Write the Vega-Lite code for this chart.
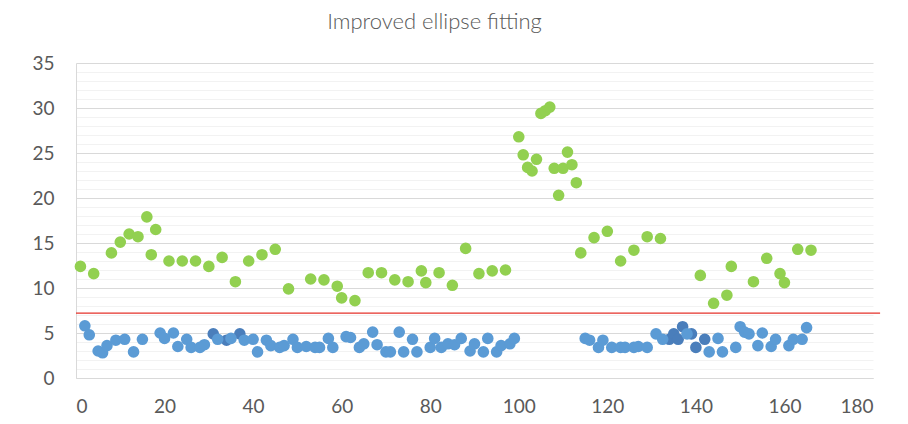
{
  "$schema": "https://vega.github.io/schema/vega-lite/v6.json",
  "width": 797,
  "height": 315,
  "autosize": "none",
  "padding": {"left": 76, "top": 63, "right": 35, "bottom": 46},
  "background": "white",
  "config": {"view": {"stroke": null}, "font": "Lato"},
  "title": {
    "text": "Improved ellipse fitting",
    "font": "Lato",
    "fontSize": 22,
    "fontWeight": 300,
    "color": "#595959",
    "anchor": "middle",
    "dx": -40,
    "baseline": "alphabetic",
    "offset": 3
  },
  "datasets": {
    "pts": [
      {"x": 1, "y": 12.4, "s": "green"}, {"x": 4, "y": 11.6, "s": "green"}, {"x": 8, "y": 13.9, "s": "green"},
      {"x": 10, "y": 15.1, "s": "green"}, {"x": 12, "y": 16.0, "s": "green"}, {"x": 14, "y": 15.7, "s": "green"},
      {"x": 16, "y": 17.9, "s": "green"}, {"x": 17, "y": 13.7, "s": "green"}, {"x": 18, "y": 16.5, "s": "green"},
      {"x": 21, "y": 13.0, "s": "green"}, {"x": 24, "y": 13.0, "s": "green"}, {"x": 27, "y": 13.0, "s": "green"},
      {"x": 30, "y": 12.4, "s": "green"}, {"x": 33, "y": 13.4, "s": "green"}, {"x": 36, "y": 10.7, "s": "green"},
      {"x": 39, "y": 13.0, "s": "green"}, {"x": 42, "y": 13.7, "s": "green"}, {"x": 45, "y": 14.3, "s": "green"},
      {"x": 48, "y": 9.9, "s": "green"}, {"x": 53, "y": 11.0, "s": "green"}, {"x": 56, "y": 10.9, "s": "green"},
      {"x": 59, "y": 10.2, "s": "green"}, {"x": 60, "y": 8.9, "s": "green"}, {"x": 63, "y": 8.6, "s": "green"},
      {"x": 66, "y": 11.7, "s": "green"}, {"x": 69, "y": 11.7, "s": "green"}, {"x": 72, "y": 10.9, "s": "green"},
      {"x": 75, "y": 10.7, "s": "green"}, {"x": 78, "y": 11.9, "s": "green"}, {"x": 79, "y": 10.6, "s": "green"},
      {"x": 82, "y": 11.7, "s": "green"}, {"x": 85, "y": 10.3, "s": "green"}, {"x": 88, "y": 14.4, "s": "green"},
      {"x": 91, "y": 11.6, "s": "green"}, {"x": 94, "y": 11.9, "s": "green"}, {"x": 97, "y": 12.0, "s": "green"},
      {"x": 100, "y": 26.8, "s": "green"}, {"x": 101, "y": 24.8, "s": "green"}, {"x": 102, "y": 23.4, "s": "green"},
      {"x": 103, "y": 23.0, "s": "green"}, {"x": 104, "y": 24.3, "s": "green"}, {"x": 105, "y": 29.4, "s": "green"},
      {"x": 106, "y": 29.7, "s": "green"}, {"x": 107, "y": 30.1, "s": "green"}, {"x": 108, "y": 23.3, "s": "green"},
      {"x": 109, "y": 20.3, "s": "green"}, {"x": 110, "y": 23.3, "s": "green"}, {"x": 111, "y": 25.1, "s": "green"},
      {"x": 112, "y": 23.7, "s": "green"}, {"x": 113, "y": 21.7, "s": "green"}, {"x": 114, "y": 13.9, "s": "green"},
      {"x": 117, "y": 15.6, "s": "green"}, {"x": 120, "y": 16.3, "s": "green"}, {"x": 123, "y": 13.0, "s": "green"},
      {"x": 126, "y": 14.2, "s": "green"}, {"x": 129, "y": 15.7, "s": "green"}, {"x": 132, "y": 15.5, "s": "green"},
      {"x": 141, "y": 11.4, "s": "green"}, {"x": 144, "y": 8.3, "s": "green"}, {"x": 147, "y": 9.2, "s": "green"},
      {"x": 148, "y": 12.4, "s": "green"}, {"x": 153, "y": 10.7, "s": "green"}, {"x": 156, "y": 13.3, "s": "green"},
      {"x": 159, "y": 11.6, "s": "green"}, {"x": 160, "y": 10.6, "s": "green"}, {"x": 163, "y": 14.3, "s": "green"},
      {"x": 166, "y": 14.2, "s": "green"},

      {"x": 2, "y": 5.8, "s": "blue"}, {"x": 3, "y": 4.8, "s": "blue"}, {"x": 5, "y": 3.0, "s": "blue"},
      {"x": 6, "y": 2.8, "s": "blue"}, {"x": 7, "y": 3.6, "s": "blue"}, {"x": 9, "y": 4.2, "s": "blue"},
      {"x": 11, "y": 4.3, "s": "blue"}, {"x": 13, "y": 2.9, "s": "blue"}, {"x": 15, "y": 4.3, "s": "blue"},
      {"x": 19, "y": 5.0, "s": "blue"}, {"x": 20, "y": 4.4, "s": "blue"}, {"x": 22, "y": 5.0, "s": "blue"},
      {"x": 23, "y": 3.5, "s": "blue"}, {"x": 25, "y": 4.3, "s": "blue"}, {"x": 26, "y": 3.4, "s": "blue"},
      {"x": 28, "y": 3.4, "s": "blue"}, {"x": 29, "y": 3.7, "s": "blue"}, {"x": 32, "y": 4.3, "s": "blue"},
      {"x": 35, "y": 4.4, "s": "blue"}, {"x": 38, "y": 4.2, "s": "blue"}, {"x": 40, "y": 4.3, "s": "blue"},
      {"x": 41, "y": 2.9, "s": "blue"}, {"x": 43, "y": 4.2, "s": "blue"}, {"x": 44, "y": 3.6, "s": "blue"},
      {"x": 46, "y": 3.4, "s": "blue"}, {"x": 47, "y": 3.6, "s": "blue"}, {"x": 49, "y": 4.3, "s": "blue"},
      {"x": 50, "y": 3.4, "s": "blue"}, {"x": 52, "y": 3.5, "s": "blue"}, {"x": 54, "y": 3.4, "s": "blue"},
      {"x": 55, "y": 3.4, "s": "blue"}, {"x": 57, "y": 4.4, "s": "blue"}, {"x": 58, "y": 3.4, "s": "blue"},
      {"x": 61, "y": 4.6, "s": "blue"}, {"x": 62, "y": 4.5, "s": "blue"}, {"x": 64, "y": 3.4, "s": "blue"},
      {"x": 65, "y": 3.8, "s": "blue"}, {"x": 67, "y": 5.1, "s": "blue"}, {"x": 68, "y": 3.7, "s": "blue"},
      {"x": 70, "y": 2.9, "s": "blue"}, {"x": 71, "y": 2.9, "s": "blue"}, {"x": 73, "y": 5.1, "s": "blue"},
      {"x": 74, "y": 2.9, "s": "blue"}, {"x": 76, "y": 4.3, "s": "blue"}, {"x": 77, "y": 2.9, "s": "blue"},
      {"x": 80, "y": 3.4, "s": "blue"}, {"x": 81, "y": 4.4, "s": "blue"}, {"x": 82.5, "y": 3.4, "s": "blue"},
      {"x": 84, "y": 3.8, "s": "blue"}, {"x": 85.5, "y": 3.7, "s": "blue"}, {"x": 87, "y": 4.4, "s": "blue"},
      {"x": 89, "y": 3.0, "s": "blue"}, {"x": 90, "y": 3.8, "s": "blue"}, {"x": 92, "y": 2.9, "s": "blue"},
      {"x": 93, "y": 4.4, "s": "blue"}, {"x": 95, "y": 2.9, "s": "blue"}, {"x": 96, "y": 3.6, "s": "blue"},
      {"x": 98, "y": 3.8, "s": "blue"}, {"x": 99, "y": 4.4, "s": "blue"}, {"x": 115, "y": 4.4, "s": "blue"},
      {"x": 116, "y": 4.2, "s": "blue"}, {"x": 118, "y": 3.4, "s": "blue"}, {"x": 119, "y": 4.2, "s": "blue"},
      {"x": 121, "y": 3.4, "s": "blue"}, {"x": 123, "y": 3.4, "s": "blue"}, {"x": 124, "y": 3.4, "s": "blue"},
      {"x": 126, "y": 3.4, "s": "blue"}, {"x": 127, "y": 3.5, "s": "blue"}, {"x": 129, "y": 3.4, "s": "blue"},
      {"x": 131, "y": 4.9, "s": "blue"}, {"x": 132.5, "y": 4.3, "s": "blue"}, {"x": 138, "y": 4.9, "s": "blue"},
      {"x": 143, "y": 2.9, "s": "blue"}, {"x": 145, "y": 4.4, "s": "blue"}, {"x": 146, "y": 2.9, "s": "blue"},
      {"x": 149, "y": 3.4, "s": "blue"}, {"x": 150, "y": 5.7, "s": "blue"}, {"x": 151, "y": 5.1, "s": "blue"},
      {"x": 152, "y": 4.9, "s": "blue"}, {"x": 154, "y": 3.6, "s": "blue"}, {"x": 155, "y": 5.0, "s": "blue"},
      {"x": 157, "y": 3.5, "s": "blue"}, {"x": 158, "y": 4.3, "s": "blue"}, {"x": 161, "y": 3.6, "s": "blue"},
      {"x": 162, "y": 4.3, "s": "blue"}, {"x": 164, "y": 4.3, "s": "blue"}, {"x": 165, "y": 5.6, "s": "blue"},

      {"x": 31, "y": 4.9, "s": "dark"}, {"x": 34, "y": 4.2, "s": "dark"}, {"x": 37, "y": 4.9, "s": "dark"},
      {"x": 134, "y": 4.3, "s": "dark"}, {"x": 135, "y": 4.9, "s": "dark"}, {"x": 136, "y": 4.3, "s": "dark"},
      {"x": 137, "y": 5.7, "s": "dark"}, {"x": 139, "y": 4.9, "s": "dark"}, {"x": 140, "y": 3.4, "s": "dark"},
      {"x": 142, "y": 4.3, "s": "dark"}
    ],
    "threshold": [
      {"x": 0, "y": 7.2},
      {"x": 181.6, "y": 7.2}
    ]
  },
  "layer": [
    {
      "data": {"name": "pts"},
      "mark": {"type": "circle", "opacity": 0},
      "encoding": {
        "x": {
          "field": "x", "type": "quantitative",
          "scale": {"domain": [0, 180], "nice": false},
          "axis": {
            "title": null, "values": [0,20,40,60,80,100,120,140,160,180],
            "grid": false, "ticks": false, "domainColor": "#d9d9d9", "domainWidth": 1,
            "labelFont": "Lato", "labelFontSize": 19, "labelColor": "#595959", "labelPadding": 19
          }
        },
        "y": {
          "field": "y", "type": "quantitative",
          "scale": {"domain": [0, 35], "nice": false},
          "axis": {
            "orient": "left", "title": null, "labels": false, "ticks": false, "domain": false,
            "values": [1,2,3,4,6,7,8,9,11,12,13,14,16,17,18,19,21,22,23,24,26,27,28,29,31,32,33,34],
            "grid": true, "gridColor": "#f2f2f2", "gridWidth": 1
          }
        }
      }
    },
    {
      "data": {"name": "pts"},
      "mark": {"type": "circle", "size": 135, "opacity": 1},
      "encoding": {
        "x": {"field": "x", "type": "quantitative", "scale": {"domain": [0, 180], "nice": false}},
        "y": {
          "field": "y", "type": "quantitative",
          "scale": {"domain": [0, 35], "nice": false},
          "axis": {
            "orient": "left", "title": null, "values": [0,5,10,15,20,25,30,35],
            "grid": true, "gridColor": "#d9d9d9", "gridWidth": 1,
            "ticks": false, "domainColor": "#d9d9d9", "domainWidth": 1,
            "labelFont": "Lato", "labelFontSize": 19, "labelColor": "#595959", "labelPadding": 22
          }
        },
        "color": {
          "field": "s", "type": "nominal",
          "scale": {"domain": ["green", "blue", "dark"], "range": ["#92d050", "#5b9bd5", "#4a7ebb"]},
          "legend": null
        },
        "order": {"field": "s", "sort": "descending"}
      }
    },
    {
      "data": {"name": "threshold"},
      "mark": {"type": "line", "color": "#e5322b", "strokeWidth": 1.2, "clip": false},
      "encoding": {
        "x": {"field": "x", "type": "quantitative", "scale": {"domain": [0, 180], "nice": false}},
        "y": {"field": "y", "type": "quantitative", "scale": {"domain": [0, 35], "nice": false}, "axis": null}
      }
    }
  ],
  "resolve": {"axis": {"y": "independent"}}
}
